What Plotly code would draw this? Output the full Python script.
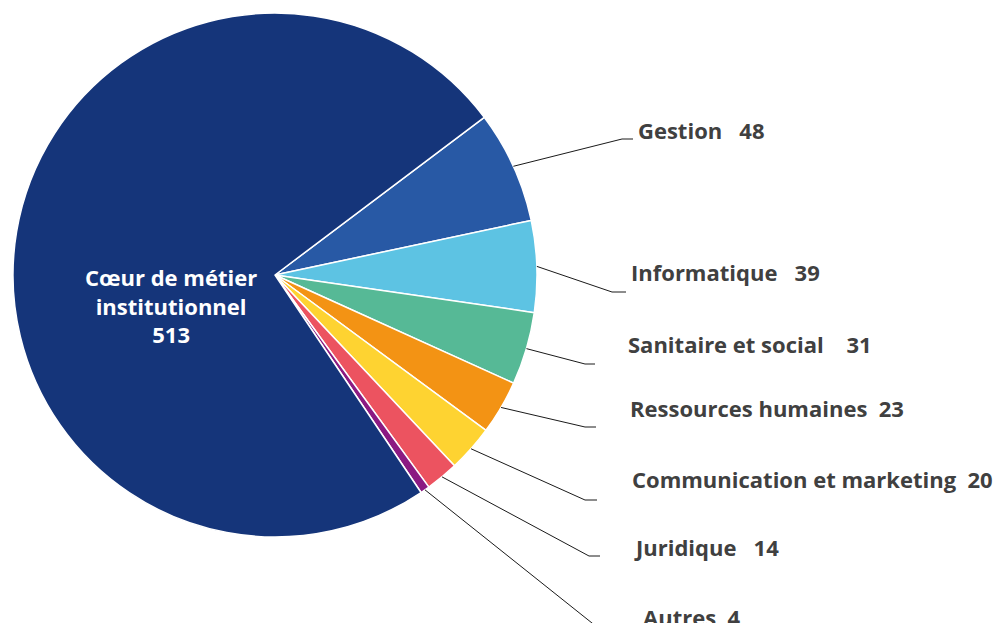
import math
import plotly.graph_objects as go

# Effectifs par famille de métiers
categories = ["Gestion", "Informatique", "Sanitaire et social", "Ressources humaines",
              "Communication et marketing", "Juridique", "Autres",
              "Cœur de métier institutionnel"]
values = [48, 39, 31, 23, 20, 14, 4, 513]
label_texts = ["Gestion   48", "Informatique   39", "Sanitaire et social    31",
               "Ressources humaines  23", "Communication et marketing  20",
               "Juridique   14", "Autres  4"]
colors = ["#2859a5", "#5dc3e3", "#56b996", "#f39314", "#fed331", "#ec5360",
          "#8b1a82", "#15357a"]

W, H = 1004, 623
CX, CY, R = 275, 275, 262          # pie centre / radius in pixels
START_DEG = 37                      # first slice starts here (counter-clockwise from 3 o'clock)
FONT = "Open Sans"
FONT_SIZE = 22

# callout layout: elbow point, end of horizontal tick, label anchor (pixels)
elbows = [(622, 139), (612, 292), (585, 364), (585, 427), (585, 500), (589, 556), (597, 627)]
tick_ends = [633, 626, 595, 596, 597, 600, 608]
label_pos = [(636, 130), (629, 272), (626, 344), (628, 408), (630, 479), (632, 547), (641, 617)]


def px(x):
    return x / W


def py(y):
    return 1 - y / H


fig = go.Figure(go.Pie(
    labels=categories,
    values=values,
    sort=False,
    direction="clockwise",
    rotation=90 - START_DEG,
    marker=dict(colors=colors, line=dict(color="white", width=1.5)),
    textinfo="none",
    hoverinfo="label+value",
    domain=dict(x=[px(CX - R), px(CX + R)], y=[py(CY + R), py(CY - R)]),
    showlegend=False,
))

total = sum(values)
shapes = []
annotations = []
cum = 0
for i, txt in enumerate(label_texts):
    mid = START_DEG - (cum + values[i] / 2) / total * 360
    cum += values[i]
    ex = CX + R * math.cos(math.radians(mid))
    ey = CY - R * math.sin(math.radians(mid))
    bx, by = elbows[i]
    path = f"M {px(ex)},{py(ey)} L {px(bx)},{py(by)} L {px(tick_ends[i])},{py(by)}"
    shapes.append(dict(type="path", path=path, xref="paper", yref="paper",
                       line=dict(color="#1a1a1a", width=1)))
    lx, ly = label_pos[i]
    annotations.append(dict(text=f"<b>{txt}</b>", x=px(lx), y=py(ly), xref="paper",
                            yref="paper", xanchor="left", yanchor="middle",
                            showarrow=False,
                            font=dict(family=FONT, size=FONT_SIZE, color="#404040")))

annotations.append(dict(text="<b>Cœur de métier<br>institutionnel<br>513</b>",
                        x=px(171), y=py(305), xref="paper", yref="paper",
                        xanchor="center", yanchor="middle", showarrow=False,
                        align="center",
                        font=dict(family=FONT, size=FONT_SIZE, color="white")))

fig.update_layout(
    width=W, height=H,
    margin=dict(l=0, r=0, t=0, b=0),
    paper_bgcolor="white",
    plot_bgcolor="white",
    shapes=shapes,
    annotations=annotations,
)

fig.write_html("out.html")
